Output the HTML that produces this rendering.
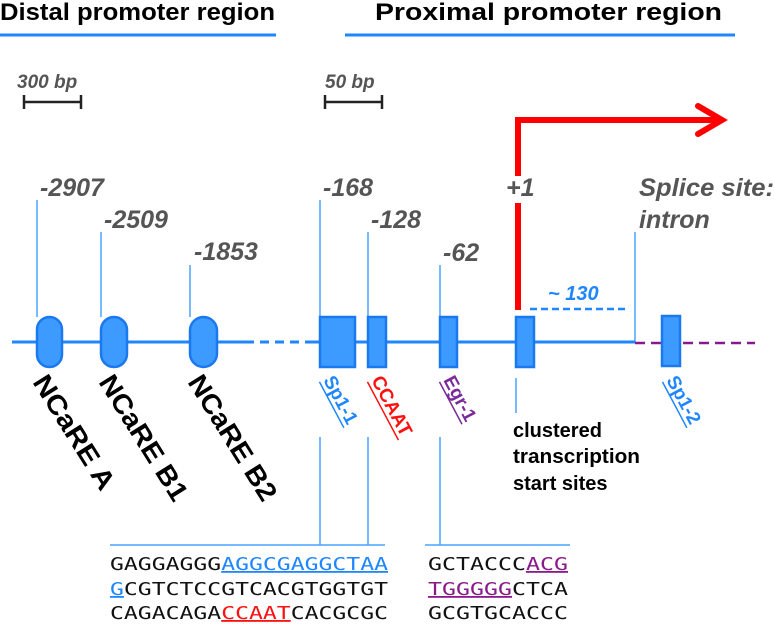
<!DOCTYPE html>
<html><head><style>body{margin:0;background:#fff}svg{display:block}</style></head><body>
<svg width="774" height="632" viewBox="0 0 774 632" xmlns="http://www.w3.org/2000/svg" font-family="Liberation Sans, Arial, sans-serif">
<text x="0" y="20" font-size="24" font-weight="bold" fill="#000" textLength="275" lengthAdjust="spacingAndGlyphs">Distal promoter region</text>
<line x1="0" y1="35" x2="276" y2="35" stroke="#1e86ff" stroke-width="3"/>
<text x="375" y="20" font-size="24" font-weight="bold" fill="#000" textLength="347" lengthAdjust="spacingAndGlyphs">Proximal promoter region</text>
<line x1="345" y1="35" x2="735" y2="35" stroke="#1e86ff" stroke-width="3"/>
<g font-size="19" font-weight="bold" font-style="italic" fill="#555">
<text x="17" y="88">300 bp</text><text x="325" y="88">50 bp</text></g>
<g stroke="#222" stroke-width="2.5">
<line x1="24" y1="102" x2="81" y2="102"/><line x1="24" y1="95" x2="24" y2="109"/><line x1="81" y1="95" x2="81" y2="109"/>
<line x1="325" y1="102" x2="382" y2="102"/><line x1="325" y1="95" x2="325" y2="109"/><line x1="382" y1="95" x2="382" y2="109"/></g>
<g stroke="#4aa3ff" stroke-width="1.5">
<line x1="37" y1="200" x2="37" y2="317"/><line x1="101" y1="232" x2="101" y2="317"/><line x1="190" y1="265" x2="190" y2="317"/>
<line x1="320" y1="200" x2="320" y2="317"/><line x1="368" y1="232" x2="368" y2="317"/><line x1="440" y1="265" x2="440" y2="317"/>
<line x1="635" y1="232" x2="635" y2="342"/><line x1="516" y1="378" x2="516" y2="413"/>
<line x1="320" y1="437" x2="320" y2="545"/><line x1="368" y1="437" x2="368" y2="545"/><line x1="440" y1="437" x2="440" y2="545"/>
<line x1="110" y1="545" x2="385" y2="545"/><line x1="425" y1="545" x2="570" y2="545"/></g>
<g font-size="25" font-weight="bold" font-style="italic" fill="#555">
<text x="40" y="196">-2907</text><text x="104" y="228">-2509</text><text x="194" y="260">-1853</text>
<text x="323" y="196">-168</text><text x="371" y="228">-128</text><text x="443" y="261">-62</text>
<text x="506" y="196">+1</text>
<text x="639" y="196" textLength="135" lengthAdjust="spacingAndGlyphs">Splice site:</text><text x="639" y="228">intron</text></g>
<line x1="12" y1="342" x2="245" y2="342" stroke="#1e86ff" stroke-width="3"/>
<line x1="245" y1="342" x2="305" y2="342" stroke="#1e86ff" stroke-width="3" stroke-dasharray="9,6"/>
<line x1="305" y1="342" x2="635" y2="342" stroke="#1e86ff" stroke-width="3"/>
<line x1="635" y1="343" x2="755" y2="343" stroke="#8a1a8a" stroke-width="2.5" stroke-dasharray="10,6"/>
<line x1="530" y1="309" x2="628" y2="309" stroke="#1e86ff" stroke-width="2.5" stroke-dasharray="7,4"/>
<text x="548" y="300" font-size="20" font-weight="bold" font-style="italic" fill="#1e86ff">~ 130</text>
<g fill="#3d9bff" stroke="#1b79f0" stroke-width="2.5">
<rect x="37" y="317" width="25" height="50" rx="12.5"/><rect x="101" y="317" width="26" height="50" rx="13"/><rect x="190" y="317" width="27" height="50" rx="13.5"/>
<rect x="320" y="317" width="35" height="50"/><rect x="368" y="317" width="18" height="50"/><rect x="440" y="317" width="17" height="50"/>
<rect x="516" y="317" width="18" height="50"/><rect x="662" y="316" width="18" height="50"/></g>
<g stroke="#ff0000" stroke-width="6" fill="none">
<line x1="518" y1="310" x2="518" y2="203"/><polyline points="518,176 518,120 720,120"/>
<polyline points="698,106 722,120 698,134" stroke-linecap="round"/></g>
<g font-size="27" font-weight="bold" fill="#000">
<text transform="translate(32,382) rotate(58)" textLength="130" lengthAdjust="spacingAndGlyphs">NCaRE A</text>
<text transform="translate(98,382) rotate(58)" textLength="143" lengthAdjust="spacingAndGlyphs">NCaRE B1</text>
<text transform="translate(187,382) rotate(58)" textLength="143" lengthAdjust="spacingAndGlyphs">NCaRE B2</text></g>
<g font-size="19" font-weight="bold">
<g transform="translate(323,380) rotate(62)" fill="#1e86ff"><text>Sp1-1</text><line x1="0" y1="4" x2="52" y2="4" stroke="#1e86ff" stroke-width="1.5"/></g>
<g transform="translate(371,380) rotate(62)" fill="#ff1010"><text>CCAAT</text><line x1="0" y1="4" x2="66" y2="4" stroke="#ff1010" stroke-width="1.5"/></g>
<g transform="translate(443,380) rotate(62)" fill="#7a2a9a"><text>Egr-1</text><line x1="0" y1="4" x2="48" y2="4" stroke="#7a2a9a" stroke-width="1.5"/></g>
<g transform="translate(666,380) rotate(62)" fill="#1e86ff"><text>Sp1-2</text><line x1="0" y1="4" x2="52" y2="4" stroke="#1e86ff" stroke-width="1.5"/></g></g>
<g font-size="20" font-weight="bold" fill="#000">
<text x="513" y="437">clustered</text><text x="513" y="463" textLength="127" lengthAdjust="spacingAndGlyphs">transcription</text><text x="513" y="490">start sites</text></g>
<g font-family="DejaVu Sans Mono, Liberation Mono, monospace" font-size="18" fill="#111">
<text x="110" y="570" textLength="278" lengthAdjust="spacingAndGlyphs">GAGGAGGG<tspan fill="#1e86ff" text-decoration="underline">AGGCGAGGCTAA</tspan></text>
<text x="110" y="595" textLength="278" lengthAdjust="spacingAndGlyphs"><tspan fill="#1e86ff" text-decoration="underline">G</tspan>CGTCTCCGTCACGTGGTGT</text>
<text x="110" y="619" textLength="278" lengthAdjust="spacingAndGlyphs">CAGACAGA<tspan fill="#ff1010" text-decoration="underline">CCAAT</tspan>CACGCGC</text>
<text x="428" y="570" textLength="140" lengthAdjust="spacingAndGlyphs">GCTACCC<tspan fill="#8a1a8a" text-decoration="underline">ACG</tspan></text>
<text x="428" y="595" textLength="140" lengthAdjust="spacingAndGlyphs"><tspan fill="#8a1a8a" text-decoration="underline">TGGGGG</tspan>CTCA</text>
<text x="428" y="619" textLength="140" lengthAdjust="spacingAndGlyphs">GCGTGCACCC</text></g>
</svg>
</body></html>
